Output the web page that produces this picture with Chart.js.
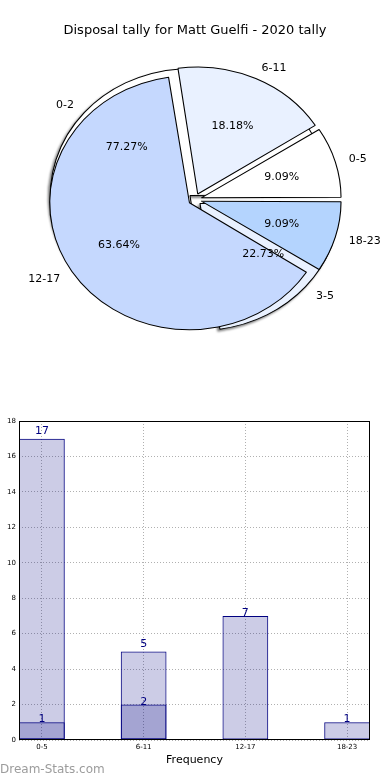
<!DOCTYPE html>
<html><head><meta charset="utf-8">
<script src="https://cdn.jsdelivr.net/npm/chart.js@4/dist/chart.umd.min.js"></script>
<style>
html,body{margin:0;padding:0;background:#fff;width:390px;height:780px;overflow:hidden;}
#wrap{position:relative;width:390px;height:780px;}
.abs{position:absolute;}
#title{left:0;top:21px;width:390px;text-align:center;font-family:"DejaVu Sans";font-size:13px;line-height:18px;color:#000;white-space:nowrap;}
#pieBack{left:0;top:0;filter:drop-shadow(-2px 2px 0.8px rgba(0,0,0,0.5));}
#pieFront{left:0;top:0;}
#bar{left:0;top:400px;}
#wm{left:0;top:763px;font-family:"DejaVu Sans";font-size:12px;line-height:12px;color:#9c9c9c;white-space:nowrap;}
</style></head>
<body><div id="wrap">
<canvas id="pieBack" class="abs" width="390" height="399"></canvas>
<canvas id="pieFront" class="abs" width="390" height="399"></canvas>
<div id="title" class="abs">Disposal tally for Matt Guelfi - 2020 tally</div>
<canvas id="bar" class="abs" width="390" height="380"></canvas>
<div id="wm" class="abs">Dream-Stats.com</div>
</div>
<script>
// ---- data ----
const pieCategories = ['0-5', '6-11', '12-17', '18-23'];
const pieValues = [2, 4, 14, 2];
const pieColors = ['#ffffff', '#e9f1ff', '#c5d8fe', '#b4d4fe'];
const groupCategories = ['0-2', '3-5'];
const groupValues = [17, 5];
const groupColors = ['#ffffff', '#e9f1ff'];
const barCategories = ['0-5', '6-11', '12-17', '18-23'];
const totalCounts = [17, 5, 7, 1];
const overlapCounts = [1, 2, 0, 0];
const yTickValues = [0, 2, 4, 6, 8, 10, 12, 14, 16, 18];

// ---- pie geometry / style ----
const R = 127, SX = 1.1, EXPLODE = 24; // Chart.js shifts an arc by offset/4
const FONT = '"DejaVu Sans"';

const ellipse = {
  id: 'ellipse',
  afterDatasetsUpdate(chart) {
    chart.getDatasetMeta(0).data.forEach(arc => {
      const off = (arc.options.offset || 0) / 4;
      const fix = 1 - Math.sin(Math.min(Math.PI, arc.endAngle - arc.startAngle));
      arc.outerRadius = R - off * fix;
    });
  },
  beforeDatasetsDraw(chart) {
    const a = chart.getDatasetMeta(0).data[0];
    const ctx = chart.ctx;
    ctx.save();
    ctx.translate(a.x, a.y); ctx.scale(SX, 1); ctx.translate(-a.x, -a.y);
  },
  afterDatasetsDraw(chart) { chart.ctx.restore(); }
};

function drawPieTexts(chart, ctx) {
  const meta = chart.getDatasetMeta(0);
  const labels = chart.data.labels;
  const vals = chart.data.datasets[0].data;
  const total = vals.reduce((a, b) => a + b, 0);
  ctx.save();
  ctx.font = '11px ' + FONT;
  ctx.fillStyle = '#000';
  ctx.textBaseline = 'middle';
  meta.data.forEach((arc, i) => {
    const mid = (arc.startAngle + arc.endAngle) / 2;
    const d = (arc.options.offset || 0) / 4;
    const pt = k => ({ x: arc.x + SX * (d + k * R) * Math.cos(mid), y: arc.y + (d + k * R) * Math.sin(mid) });
    const lp = pt(1.1), pp = pt(0.6);
    ctx.textAlign = Math.cos(mid) > 0 ? 'left' : 'right';
    ctx.fillText(labels[i], lp.x, lp.y + 1);
    ctx.textAlign = 'center';
    ctx.fillText((vals[i] / total * 100).toFixed(2) + '%', pp.x, pp.y + 1);
  });
  ctx.restore();
}

function pieConfig(labels, values, colors, extra) {
  return {
    type: 'pie',
    data: {
      labels: labels,
      datasets: [{
        data: values,
        backgroundColor: colors,
        borderColor: '#000',
        borderWidth: 1,
        offset: EXPLODE,
        clip: false
      }]
    },
    options: {
      responsive: false, animation: false, events: [],
      rotation: 90, radius: R,
      layout: { padding: 0 },
      plugins: { legend: { display: false }, tooltip: { enabled: false } }
    },
    plugins: [ellipse].concat(extra || [])
  };
}

// Chart.js goes clockwise from the given start; reverse to get counter-clockwise order
const rev = a => a.slice().reverse();
const backChart = new Chart(document.getElementById('pieBack'),
  pieConfig(rev(groupCategories), rev(groupValues), rev(groupColors)));
const pieTexts = {
  id: 'pieTexts',
  afterDraw(chart) {
    drawPieTexts(backChart, chart.ctx);
    drawPieTexts(chart, chart.ctx);
  }
};
new Chart(document.getElementById('pieFront'),
  pieConfig(rev(pieCategories), rev(pieValues), rev(pieColors), [pieTexts]));

// ---- bar chart ----
const frame = {
  id: 'frame',
  afterDatasetsDraw(chart) {
    const { ctx, chartArea: a } = chart;
    ctx.save();
    ctx.strokeStyle = '#000'; ctx.lineWidth = 1;
    ctx.strokeRect(Math.round(a.left) + 0.5, Math.round(a.top) + 0.5, Math.round(a.right - a.left) - 1, Math.round(a.bottom - a.top) - 1);
    ctx.restore();
  }
};
const valueLabels = {
  id: 'valueLabels',
  afterDraw(chart) {
    const ctx = chart.ctx;
    ctx.save();
    ctx.font = '11px ' + FONT;
    ctx.fillStyle = '#000080';
    ctx.textAlign = 'center';
    ctx.textBaseline = 'alphabetic';
    chart.data.datasets.forEach((ds, di) => {
      chart.getDatasetMeta(di).data.forEach((bar, i) => {
        const v = ds.data[i].y;
        if (!v) return;
        const lift = (ds.label === 'total' && overlapCounts[i] > 0) ? 4.5 : 0;
        ctx.fillText(String(v), bar.x, bar.y - lift);
      });
    });
    ctx.restore();
  }
};
const barStyle = {
  backgroundColor: 'rgba(0,0,128,0.2)',
  borderColor: '#000080',
  borderWidth: 1,
  borderSkipped: false,
  grouped: false,
  barPercentage: 0.45,
  categoryPercentage: 1
};
const gridStyle = { color: '#b0b0b0', lineWidth: 1, drawTicks: false, offset: false };
new Chart(document.getElementById('bar'), {
  type: 'bar',
  data: {
    datasets: [
      Object.assign({ label: 'overlap', data: overlapCounts.map((v, i) => ({ x: i, y: v })) }, barStyle),
      Object.assign({ label: 'total', data: totalCounts.map((v, i) => ({ x: i, y: v })) }, barStyle)
    ]
  },
  options: {
    responsive: false, animation: false, events: [],
    layout: { padding: { top: 21, right: 20, left: 0, bottom: 0 } },
    plugins: { legend: { display: false }, tooltip: { enabled: false } },
    scales: {
      x: {
        type: 'linear', min: -0.225, max: 3.225, offset: false,
        afterBuildTicks(s) { s.ticks = barCategories.map((c, i) => ({ value: i })); },
        ticks: { callback: v => barCategories[v], font: { family: 'DejaVu Sans', size: 7 }, color: '#000', padding: 3, autoSkip: false, maxRotation: 0 },
        grid: gridStyle,
        border: { display: false, dash: [1, 2] },
        title: { display: true, text: 'Frequency', font: { family: 'DejaVu Sans', size: 11 }, color: '#000', padding: { top: 0, bottom: 13.4 } },
        afterFit(s) { s.height = 40; }
      },
      y: {
        min: 0, max: 18,
        afterBuildTicks(s) { s.ticks = yTickValues.map(v => ({ value: v })); },
        ticks: { font: { family: 'DejaVu Sans', size: 7 }, color: '#000', padding: 3 },
        grid: gridStyle,
        border: { display: false, dash: [1, 2] },
        afterFit(s) { s.width = 19; }
      }
    }
  },
  plugins: [frame, valueLabels]
});
</script>
</body></html>
